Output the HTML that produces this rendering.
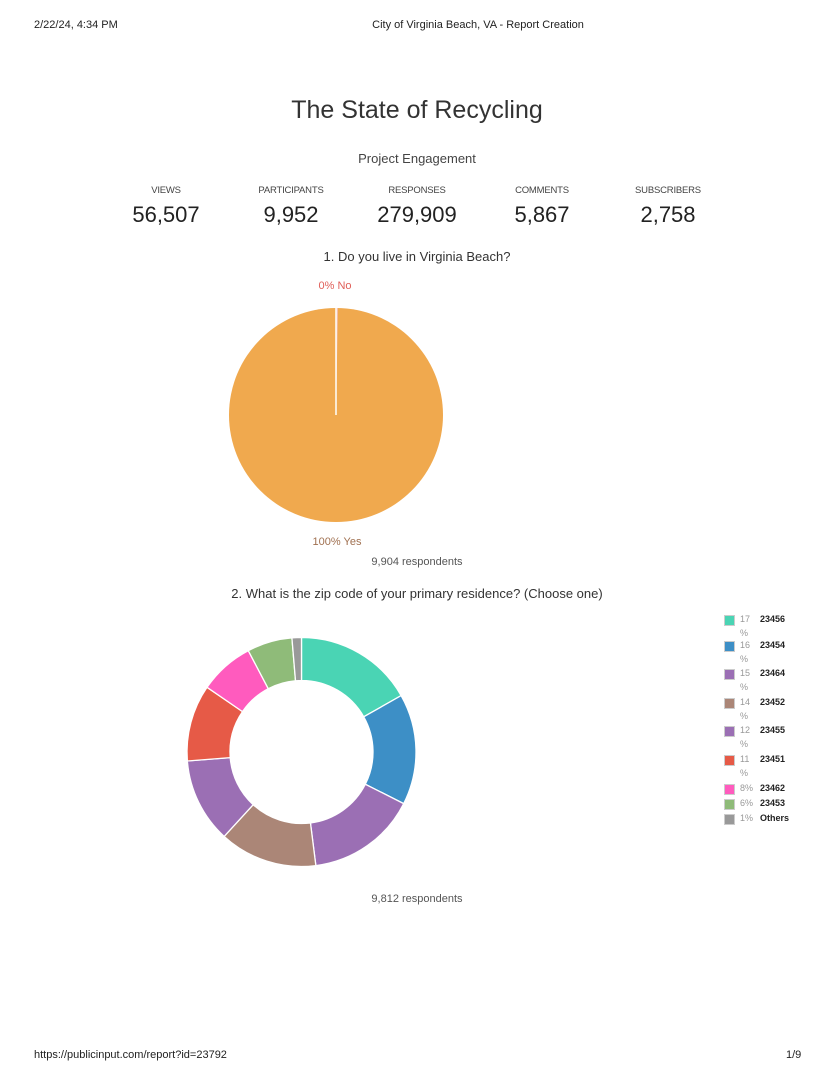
<!DOCTYPE html>
<html><head><meta charset="utf-8"><style>
body{margin:0;width:835px;height:1080px;background:#fff;font-family:"Liberation Sans",sans-serif;position:relative;overflow:hidden}
.a{position:absolute;white-space:nowrap}
.c{transform:translateX(-50%)}
.hd{font-size:11px;color:#222}
.lbl{font-size:9.5px;color:#444;letter-spacing:-0.2px}
.num{font-size:22px;color:#222}
.lg{font-size:9px}
.sw{position:absolute;width:9px;height:9px;border:1px solid #ccc}
</style></head><body>
<div class="a hd" style="left:34px;top:19px">2/22/24, 4:34 PM</div>
<div class="a hd c" style="left:478px;top:19px">City of Virginia Beach, VA - Report Creation</div>
<div class="a c" style="left:417px;top:96px;font-size:25px;color:#333">The State of Recycling</div>
<div class="a c" style="left:417px;top:151px;font-size:13px;color:#444">Project Engagement</div>
<div class="a c lbl" style="left:166px;top:185px">VIEWS</div>
<div class="a c lbl" style="left:291px;top:185px">PARTICIPANTS</div>
<div class="a c lbl" style="left:417px;top:185px">RESPONSES</div>
<div class="a c lbl" style="left:542px;top:185px">COMMENTS</div>
<div class="a c lbl" style="left:668px;top:185px">SUBSCRIBERS</div>
<div class="a c num" style="left:166px;top:202px">56,507</div>
<div class="a c num" style="left:291px;top:202px">9,952</div>
<div class="a c num" style="left:417px;top:202px">279,909</div>
<div class="a c num" style="left:542px;top:202px">5,867</div>
<div class="a c num" style="left:668px;top:202px">2,758</div>
<div class="a c" style="left:417px;top:249px;font-size:13px;color:#333">1. Do you live in Virginia Beach?</div>
<div class="a c" style="left:335px;top:280px;font-size:11px;color:#e0605a">0% No</div>
<div class="a c" style="left:337px;top:536px;font-size:11px;color:#a07050">100% Yes</div>
<div class="a c" style="left:417px;top:556px;font-size:11px;color:#555">9,904 respondents</div>
<div class="a c" style="left:417px;top:586px;font-size:13px;color:#333">2. What is the zip code of your primary residence? (Choose one)</div>
<div class="a c" style="left:417px;top:893px;font-size:11px;color:#555">9,812 respondents</div>
<svg class="a" style="left:0;top:0" width="835" height="1080" id="s">
<circle cx="336" cy="415" r="107" fill="#f0a94e"/>
<path d="M336 415 L336 308 A107 107 0 0 1 338 308 Z" fill="#f4c0b0"/>
<line x1="336" y1="415" x2="336" y2="308" stroke="#fff" stroke-width="1.5"/>
</svg>
<div id="lg"></div>
<div class="a" style="left:34px;top:1049px;font-size:11px;color:#222">https://publicinput.com/report?id=23792</div>
<div class="a" style="left:786px;top:1049px;font-size:11px;color:#222">1/9</div>
<script>
var A=[0,60.5,116.8,172.8,222.5,265.5,304.4,332.3,355.2,360];
var C=["#4ad4b4","#3d8fc6","#9b6fb4","#ab8677","#9b6fb4","#e65a47","#ff5bbe","#8fbb79","#999999"];
var cx=301.5,cy=752,R=114.5,r=71.5,s=document.getElementById('s'),h='';
function p(a,rr){var t=a*Math.PI/180;return (cx+rr*Math.sin(t)).toFixed(2)+' '+(cy-rr*Math.cos(t)).toFixed(2);}
for(var i=0;i<9;i++){var a0=A[i],a1=A[i+1],l=(a1-a0)>180?1:0;
h+='<path d="M'+p(a0,R)+' A'+R+' '+R+' 0 '+l+' 1 '+p(a1,R)+' L'+p(a1,r)+' A'+r+' '+r+' 0 '+l+' 0 '+p(a0,r)+' Z" fill="'+C[i]+'" stroke="#fff" stroke-width="1.3"/>';}
s.insertAdjacentHTML('beforeend',h);
var L=[["17","23456",619],["16","23454",645],["15","23464",673],["14","23452",702],["12","23455",730],["11","23451",759],["8%","23462",788],["6%","23453",803],["1%","Others",818]];
var g='';L.forEach(function(e,i){var y=e[2];
g+='<div class="sw" style="left:724px;top:'+(y-4)+'px;background:'+C[i]+'"></div>';
g+='<div class="a lg" style="left:740px;top:'+(y-5)+'px;color:#999">'+e[0]+'</div>';
if(e[0].length==2&&e[0].indexOf('%')<0)g+='<div class="a lg" style="left:740px;top:'+(y+9)+'px;color:#999">%</div>';
g+='<div class="a lg" style="left:760px;top:'+(y-5)+'px;color:#222;font-weight:bold">'+e[1]+'</div>';});
document.getElementById('lg').innerHTML=g;
</script>
</body></html>
